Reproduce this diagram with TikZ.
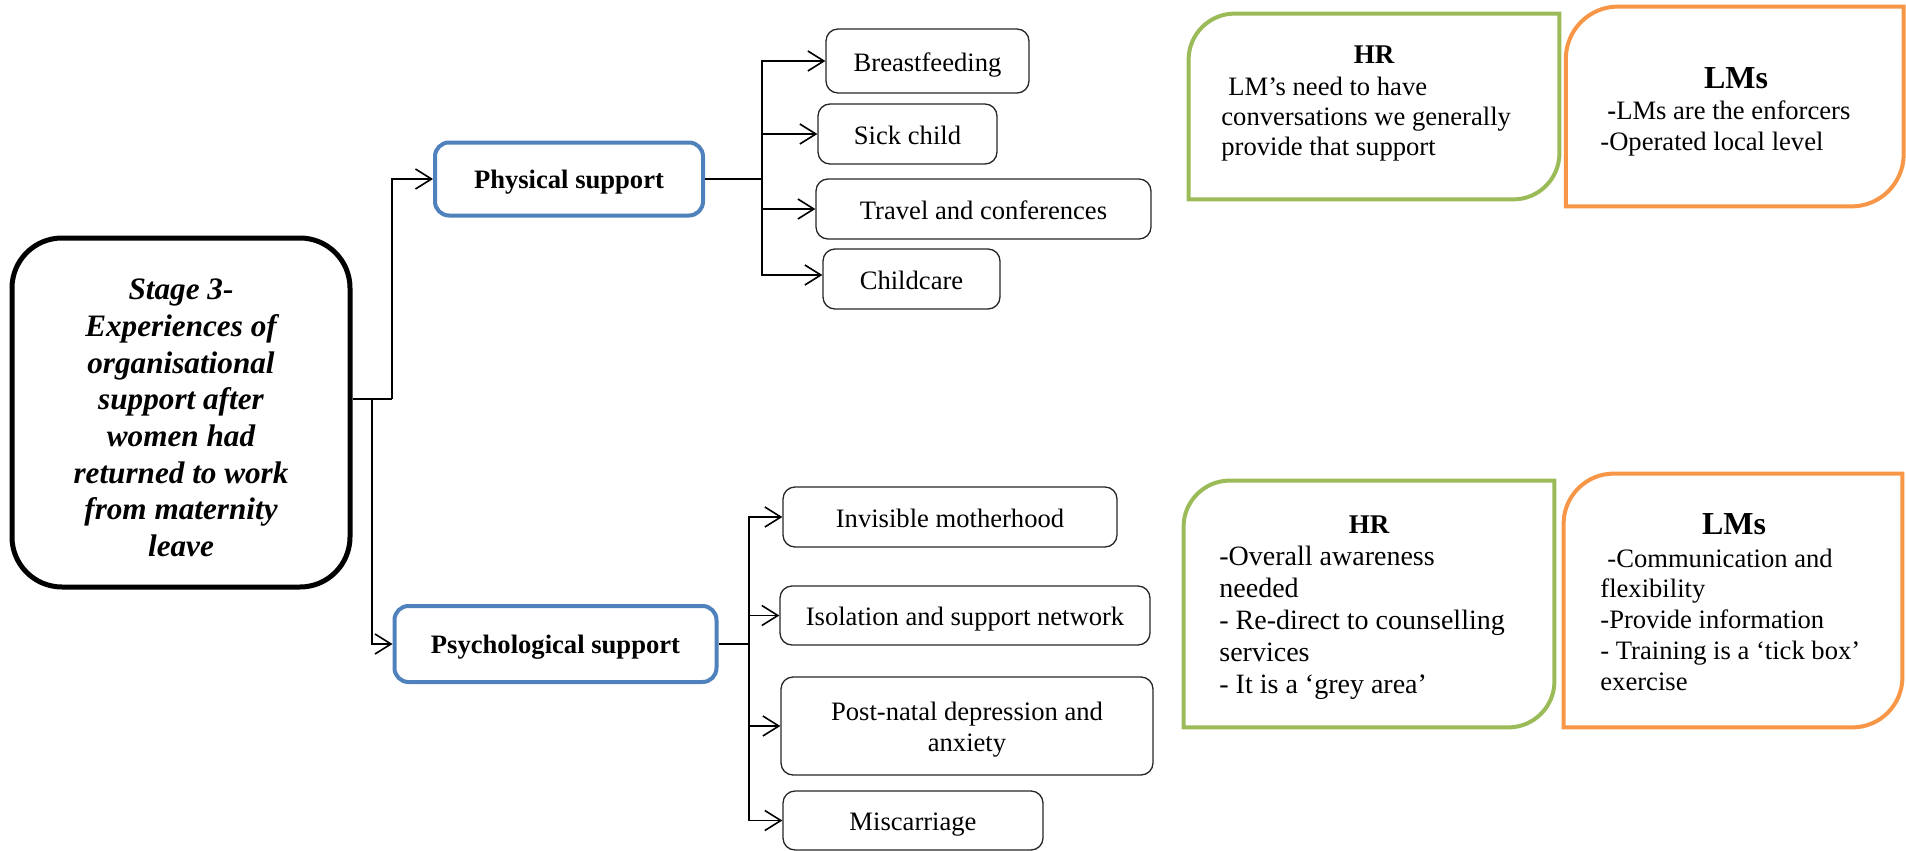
\documentclass[tikz,border=0pt]{standalone}
\usepackage{fontspec}
\setmainfont{Liberation Serif}
\usetikzlibrary{arrows.meta,calc}
\definecolor{psblue}{HTML}{4F81BD}
\definecolor{hrgreen}{HTML}{9BBB59}
\definecolor{lmorange}{HTML}{F79646}

% outline with rounded top-left and bottom-right corners, drawn round a named node
\newcommand\leafoutline[3]{%
  \draw[#2, line width=2pt, line join=miter]
    (#1.south west) -- ([yshift=-#3]#1.north west)
    .. controls ([yshift=-0.45*#3]#1.north west) and ([xshift=0.45*#3]#1.north west) .. ([xshift=#3]#1.north west)
    -- (#1.north east) -- ([yshift=#3]#1.south east)
    .. controls ([yshift=0.45*#3]#1.south east) and ([xshift=-0.45*#3]#1.south east) .. ([xshift=-#3]#1.south east)
    -- cycle;}

\begin{document}
\begin{tikzpicture}[x=0.5pt,y=-0.5pt,
  stagebox/.style={draw=black, line width=2.5pt, rounded corners=25pt,
    minimum width=169pt, minimum height=174.5pt, inner sep=0pt},
  stagetext/.style={align=center, inner sep=0pt,
    font=\fontsize{15.6}{18.33}\selectfont\bfseries\itshape},
  supportbox/.style={draw=psblue, line width=2pt, rounded corners=7pt, inner sep=0pt,
    text height=12pt, text depth=3pt, font=\fontsize{13.3}{15.5}\selectfont\bfseries},
  itembox/.style={draw=black!85, line width=0.65pt, rounded corners=6pt, inner sep=0pt,
    text height=13pt, text depth=3pt, font=\fontsize{13.3}{15.5}\selectfont},
  itemtext/.style={align=center, inner sep=0pt, font=\fontsize{13.3}{15.5}\selectfont},
  panel/.style={inner sep=0pt},
  paneltitle/.style={anchor=base, inner sep=0pt},
  paneltext/.style={anchor=base west, inner sep=0pt, font=\fontsize{13.3}{15.5}\selectfont},
  link/.style={line width=0.8pt},
  arr/.style={link, -{Straight Barb[length=8pt,width=10pt]}},
]
\useasboundingbox (0,0) rectangle (1906,851);

% central stage box
\node[stagebox] (main) at (181,412.5) {};
\node[stagetext] (maintext) at (181,418)
  {Stage 3-\\Experiences of\\organisational\\support after\\women had\\returned to work\\from maternity\\leave};

% support categories
\node[supportbox, minimum width=134pt, minimum height=36.5pt] (phys) at (569,179) {Physical support};
\node[supportbox, minimum width=161pt, minimum height=38pt] (psych) at (555.5,644) {Psychological support};

% physical support items
\node[itembox, minimum width=101.5pt, minimum height=32pt] (breast) at (927.5,61) {Breastfeeding};
\node[itembox, minimum width=89.5pt, minimum height=30pt] (sick) at (907.5,134) {Sick child};
\node[itembox, minimum width=167.5pt, minimum height=30pt] (travel) at (983.5,209) {Travel and conferences};
\node[itembox, minimum width=88.5pt, minimum height=30pt] (childc) at (911.5,279) {Childcare};

% psychological support items
\node[itembox, minimum width=167pt, minimum height=30pt] (invis) at (950,517) {Invisible motherhood};
\node[itembox, minimum width=185pt, minimum height=29.5pt] (isol) at (965,615.5) {Isolation and support network};
\node[itembox, minimum width=186pt, minimum height=49pt] (postn) at (967,726) {};
\node[itemtext] (postntext) at (967,730) {Post-natal depression and\\anxiety};
\node[itembox, minimum width=130pt, minimum height=29.5pt] (misc) at (913,820.5) {Miscarriage};

% connectors from the stage box
\coordinate (stageout) at (392,399);
\coordinate (stagefork) at (372,399);
\draw[link] (main.east |- stageout) -- (stageout);
\draw[arr] (stageout) |- (phys.west);
\draw[arr] (stagefork) |- (psych.west);

% physical support bus
\coordinate (physbus) at (762,179);
\draw[link] (phys.east) -- (physbus);
\draw[arr] (physbus) |- (breast.west);
\draw[arr] (physbus) |- (sick.west);
\draw[arr] (physbus) |- (travel.west);
\draw[arr] (physbus) |- ([yshift=2pt]childc.west);

% psychological support bus
\coordinate (psybus) at (749,644);
\draw[link] (psych.east) -- (psybus);
\draw[arr] (psybus) |- (invis.west);
\draw[arr] (psybus) |- (isol.west);
\draw[arr] (psybus) |- (postn.west);
\draw[arr] (psybus) |- (misc.west);

% HR and LM panels, physical support
\node[panel, minimum width=185pt, minimum height=92.5pt] (hrA) at (1374,106.5) {};
\leafoutline{hrA}{hrgreen}{23pt}
\node[paneltitle, font=\fontsize{13.5}{15}\selectfont\bfseries] (hrAtitle) at (1374,63) {HR};
\node[paneltext] (hrAtext) at (1221,95) {\vtop{\baselineskip=15pt
  \hbox{\hspace{3.5pt}LM’s need to have}
  \hbox{conversations we generally}
  \hbox{provide that support}}};

\node[panel, minimum width=168.5pt, minimum height=99.5pt] (lmA) at (1734.75,106.5) {};
\leafoutline{lmA}{lmorange}{26pt}
\node[paneltitle, font=\fontsize{16}{18}\selectfont\bfseries] (lmAtitle) at (1736,88) {LMs};
\node[paneltext] (lmAtext) at (1600,119) {\vtop{\baselineskip=15.5pt
  \hbox{\hspace{3.5pt}\textbf{-}LMs are the enforcers}
  \hbox{-Operated local level}}};

% HR and LM panels, psychological support
\node[panel, minimum width=185pt, minimum height=123pt] (hrB) at (1369,604) {};
\leafoutline{hrB}{hrgreen}{23pt}
\node[paneltitle, font=\fontsize{13.5}{15}\selectfont\bfseries] (hrBtitle) at (1369,533) {HR};
\node[paneltext, font=\fontsize{14}{16}\selectfont] (hrBtext) at (1219,565) {\vtop{\baselineskip=16pt
  \hbox{-Overall awareness}
  \hbox{needed}
  \hbox{- Re-direct to counselling}
  \hbox{services}
  \hbox{- It is a ‘grey area’}}};

\node[panel, minimum width=169pt, minimum height=126.5pt] (lmB) at (1733,600.5) {};
\leafoutline{lmB}{lmorange}{25pt}
\node[paneltitle, font=\fontsize{16}{18}\selectfont\bfseries] (lmBtitle) at (1734,534) {LMs};
\node[paneltext] (lmBtext) at (1600,567) {\vtop{\baselineskip=15.4pt
  \hbox{\hspace{3.5pt}-Communication and}
  \hbox{flexibility}
  \hbox{-Provide information}
  \hbox{- Training is a ‘tick box’}
  \hbox{exercise}}};
\end{tikzpicture}
\end{document}
